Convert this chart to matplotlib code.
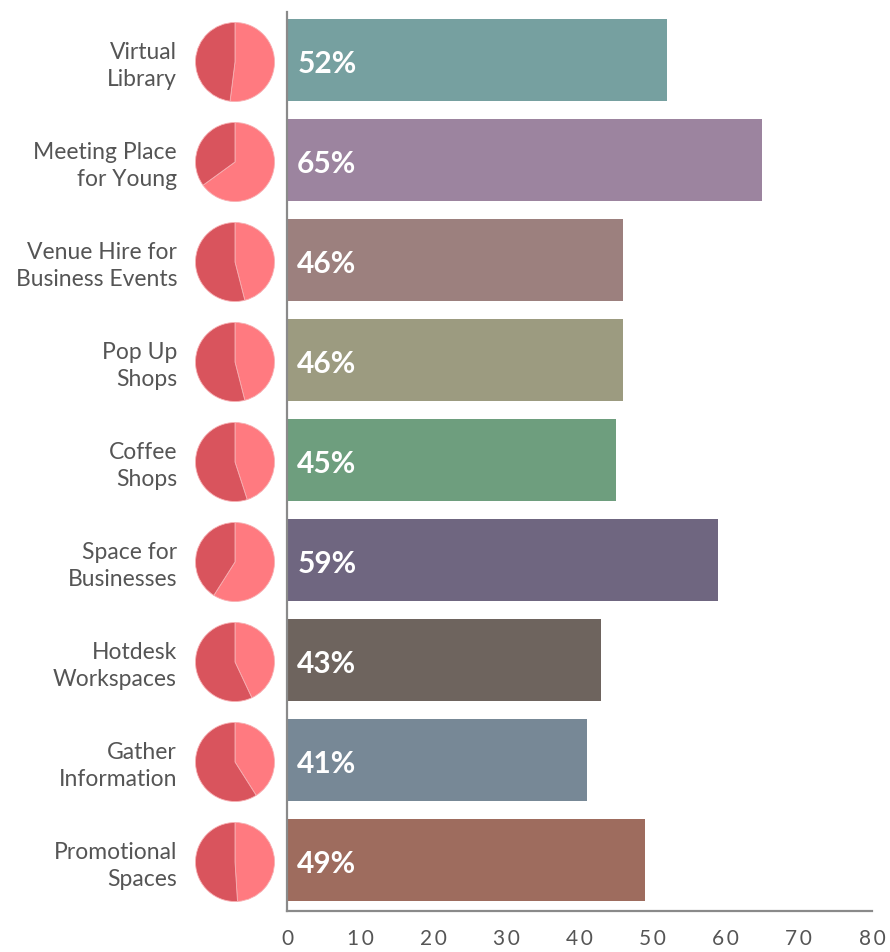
import matplotlib.pyplot as plt

categories = ["Virtual\nLibrary", "Meeting Place\nfor Young", "Venue Hire for\nBusiness Events",
              "Pop Up\nShops", "Coffee\nShops", "Space for\nBusinesses", "Hotdesk\nWorkspaces",
              "Gather\nInformation", "Promotional\nSpaces"]
values = [52, 65, 46, 46, 45, 59, 43, 41, 49]
bar_colors = ["#76A0A0", "#9C849F", "#9C807E", "#9C9B80", "#6E9E7E",
              "#6F6680", "#6E645E", "#778896", "#9E6C5E"]
x_ticks = [0, 10, 20, 30, 40, 50, 60, 70, 80]

W, H = 890, 952
fig = plt.figure(figsize=(W / 100, H / 100), dpi=100)
plt.rcParams['font.family'] = ['Lato', 'DejaVu Sans']

# main bar axes, placed in pixel terms
left, right, top, bottom = 287, 872, 12, 911
ax = fig.add_axes([left / W, 1 - bottom / H, (right - left) / W, (bottom - top) / H])

n = len(values)
ypos = list(range(n))
ax.barh(ypos, values, height=0.82, color=bar_colors)
ax.set_ylim(n - 0.49, -0.48)
ax.set_xlim(0, 80)

for y, v in zip(ypos, values):
    ax.text(1.4, y + 0.04, f"{v}%", color="white", fontsize=21.5, fontweight="bold",
            va="center", ha="left")

ax.set_yticks([])
ax.set_xticks(x_ticks)
ax.set_xticklabels(["\u2009".join(str(t)) for t in x_ticks], fontsize=15, color="#555555")
ax.tick_params(axis="x", length=0, pad=13)
for s in ["top", "right"]:
    ax.spines[s].set_visible(False)
for s in ["left", "bottom"]:
    ax.spines[s].set_color("#8a8a8a")
    ax.spines[s].set_linewidth(1.6)

# category labels and small pies
pie_size = 79
for i, (cat, v) in enumerate(zip(categories, values)):
    cy = 60 + 100 * i
    fig.text(177 / W, 1 - (cy + 6) / H, cat, ha="right", va="center", fontsize=16.5,
             color="#555555", linespacing=1.38)
    pax = fig.add_axes([(235 - pie_size / 2) / W, 1 - (cy + 2 + pie_size / 2) / H,
                        pie_size / W, pie_size / H])
    pax.pie([v, 100 - v], colors=["#FF7A80", "#D9545D"], startangle=90,
            counterclock=False, wedgeprops=dict(linewidth=0.6, edgecolor="#f7b0b3"))
    pax.set_xlim(-1, 1)
    pax.set_ylim(-1, 1)
    pax.set_aspect("equal")

fig.savefig("out.png", dpi=100)
